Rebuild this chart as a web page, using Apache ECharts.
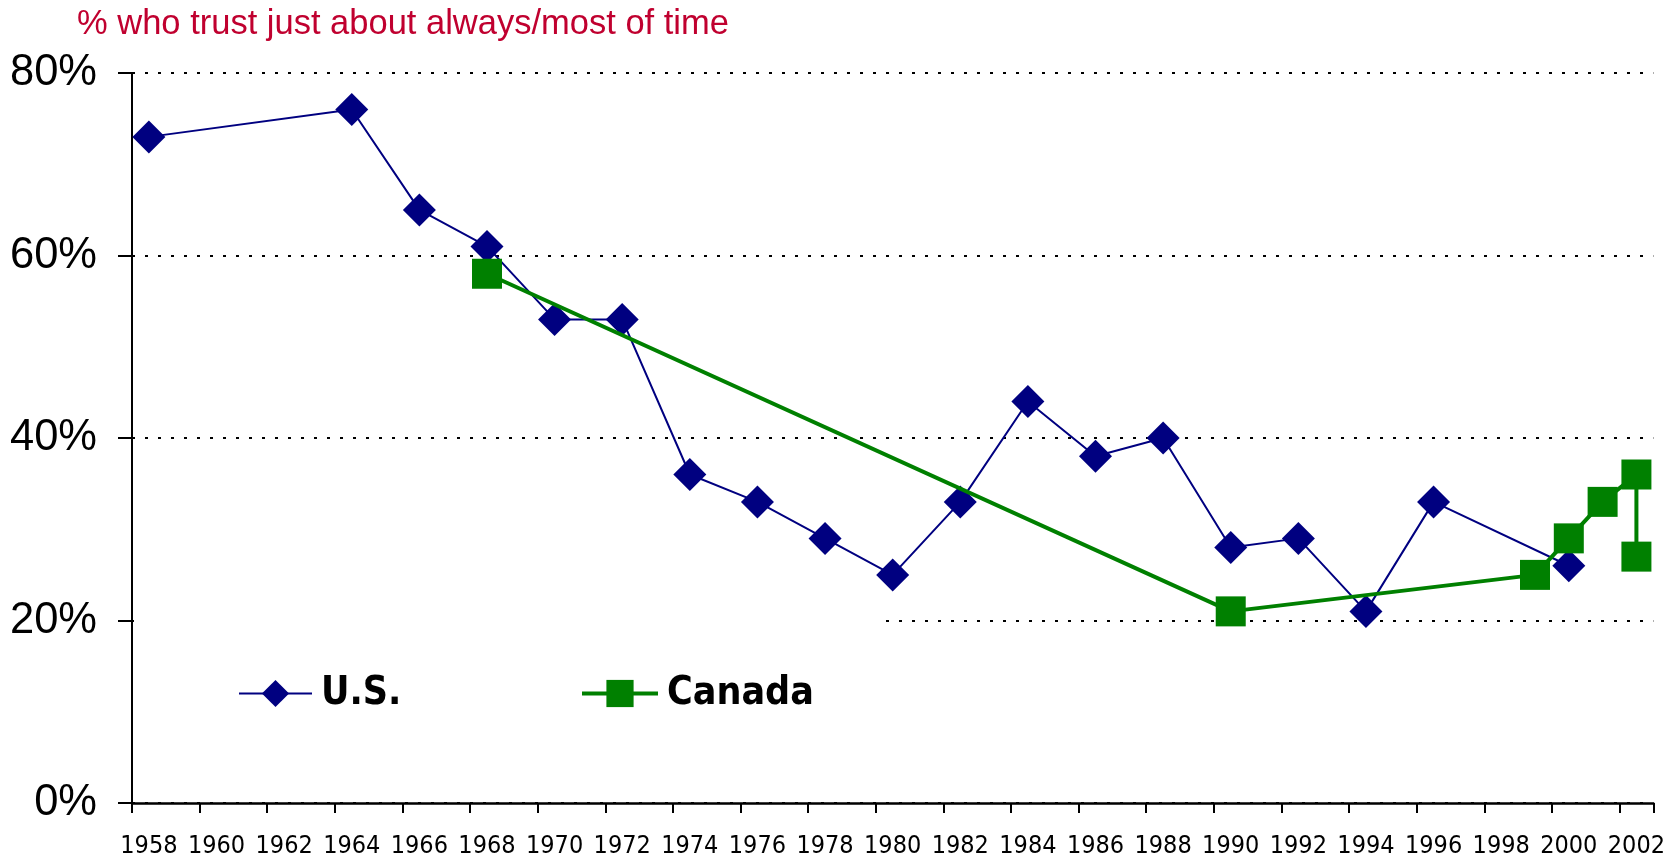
<!DOCTYPE html>
<html><head><meta charset="utf-8">
<script src="https://cdn.jsdelivr.net/npm/echarts@6/dist/echarts.min.js"></script>
<style>html,body{margin:0;padding:0;background:#fff}#c{width:1668px;height:863px}</style>
</head><body><div id="c"></div>
<script>
// Categories (one per year; labels shown every other year)
const years = ['1958','1959','1960','1961','1962','1963','1964','1965','1966','1967','1968','1969','1970','1971','1972','1973','1974','1975','1976','1977','1978','1979','1980','1981','1982','1983','1984','1985','1986','1987','1988','1989','1990','1991','1992','1993','1994','1995','1996','1997','1998','1999','2000','2001','2002'];
// U.S. series
const usYears  = ['1958','1964','1966','1968','1970','1972','1974','1976','1978','1980','1982','1984','1986','1988','1990','1992','1994','1996','2000'];
const usValues = [73, 76, 65, 61, 53, 53, 36, 33, 29, 25, 33, 44, 38, 40, 28, 29, 21, 33, 26];
// Canada series
const caYears  = ['1968','1990','1999','2000','2001','2002','2002'];
const caValues = [58, 21, 25, 29, 33, 36, 27];
// Y ticks
const yTicks = [0, 20, 40, 60, 80];

const narrow = "'Liberation Sans Narrow','Arial Narrow','DejaVu Sans Condensed',sans-serif";
const sans = "'Liberation Sans',Arial,sans-serif";

const chart = echarts.init(document.getElementById('c'), null, {renderer:'canvas'});
chart.setOption({
  animation: false,
  backgroundColor: '#fff',
  title: {
    text: '% who trust just about always/most of time',
    left: 72, top: 2,
    textStyle: {color: '#C0002F', fontSize: 34.5, fontWeight: 'normal', fontFamily: sans}
  },
  grid: {left: 132, right: 12, top: 73, bottom: 60, containLabel: false},
  xAxis: {
    type: 'category', data: years, boundaryGap: true,
    axisLine: {show: true, lineStyle: {color: '#000', width: 2.5}},
    axisTick: {show: true, interval: 1, length: 10, lineStyle: {color: '#000', width: 2}},
    axisLabel: {interval: 1, color: '#000', fontSize: 25, fontFamily: narrow, margin: 31},
    splitLine: {show: false}
  },
  yAxis: {
    type: 'value', min: yTicks[0], max: yTicks[yTicks.length-1], interval: 20,
    axisLine: {show: true, lineStyle: {color: '#000', width: 2}},
    axisTick: {show: true, length: 14, lineStyle: {color: '#000', width: 2}},
    axisLabel: {formatter: '{value}%', color: '#000', fontSize: 43.5, fontFamily: sans, margin: 35},
    splitLine: {show: true, lineStyle: {color: '#000', width: 2, type: [3, 10]}}
  },
  graphic: [{
    type: 'rect', z: 1, silent: true,
    shape: {x: 134, y: 605, width: 751, height: 30},
    style: {fill: '#fff'}
  }],
  legend: [
    {
      data: [{name: 'U.S.'}], left: 238, top: 674, padding: 0,
      itemWidth: 73, itemHeight: 34, itemGap: 0,
      textStyle: {fontFamily: narrow, fontWeight: 'bold', fontSize: 39, color: '#000', padding: [0,0,0,4]}
    },
    {
      data: [{name: 'Canada'}], left: 580, top: 674, padding: 0,
      itemWidth: 76, itemHeight: 34, itemGap: 0,
      lineStyle: {width: 4},
      textStyle: {fontFamily: narrow, fontWeight: 'bold', fontSize: 39, color: '#000', padding: [0,0,0,4]}
    }
  ],
  series: [
    {
      name: 'U.S.', type: 'line',
      data: usYears.map((y, i) => [y, usValues[i]]),
      symbol: 'diamond', symbolSize: 33, showAllSymbol: true,
      itemStyle: {color: '#000080'},
      lineStyle: {color: '#000080', width: 2},
      z: 3
    },
    {
      name: 'Canada', type: 'line',
      data: caYears.map((y, i) => [y, caValues[i]]),
      symbol: 'rect', symbolSize: 30, showAllSymbol: true,
      itemStyle: {color: '#008000'},
      lineStyle: {color: '#008000', width: 4},
      z: 4
    }
  ]
});
</script></body></html>
